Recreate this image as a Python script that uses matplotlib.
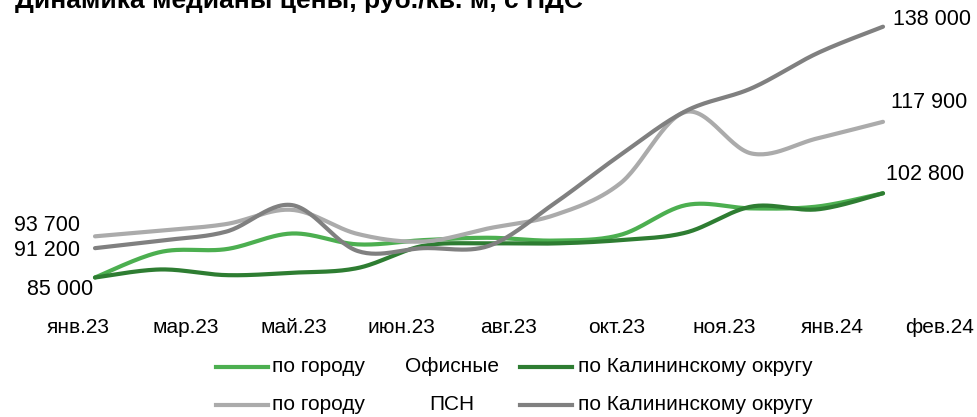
import numpy as np
import matplotlib
matplotlib.use("Agg")
import matplotlib.pyplot as plt
from matplotlib.lines import Line2D

plt.rcParams['font.family'] = ['Liberation Sans', 'DejaVu Sans']

# ---------------- data ----------------
title = "Динамика медианы цены, руб./кв. м, с НДС"
tick_labels = ["янв.23", "мар.23", "май.23", "июн.23", "авг.23",
               "окт.23", "ноя.23", "янв.24", "фев.24"]

office_city = [85000, 90400, 91000, 94300, 92000, 92900, 93400, 92800,
               94000, 100300, 99600, 100000, 102800]
office_kalin = [85000, 86700, 85500, 86000, 87000, 91700, 92200, 92200,
                92900, 94500, 100000, 99400, 102800]
psn_city = [93700, 94900, 96300, 99300, 94200, 92600, 95400, 98200,
            104900, 120000, 111200, 114400, 117900]
psn_kalin = [91200, 92800, 94700, 100300, 90600, 91200, 91700, 100700,
             110900, 120200, 125000, 132400, 138000]

legend_row1 = ["по городу", "Офисные", "по Калининскому округу"]
legend_row2 = ["по городу", "ПСН", "по Калининскому округу"]

c_green = "#4CAF50"
c_dgreen = "#2E7D32"
c_lgrey = "#ABABAB"
c_grey = "#808080"

# ---------------- helpers ----------------
def smooth(y, n=30):
    """Catmull-Rom style Bezier smoothing (like Excel smoothed lines)."""
    y = np.asarray(y, float)
    x = np.arange(len(y), dtype=float)
    P = np.column_stack([x, y])
    Pp = np.vstack([P[0], P, P[-1]])
    out = []
    t = np.linspace(0, 1, n)[:, None]
    for i in range(len(P) - 1):
        p0, p1, p2, p3 = Pp[i], Pp[i + 1], Pp[i + 2], Pp[i + 3]
        c1 = p1 + (p2 - p0) / 6.0
        c2 = p2 - (p3 - p1) / 6.0
        seg = ((1 - t) ** 3) * p1 + 3 * ((1 - t) ** 2) * t * c1 + 3 * (1 - t) * t ** 2 * c2 + t ** 3 * p2
        out.append(seg if i == 0 else seg[1:])
    seg = np.vstack(out)
    return seg[:, 0], seg[:, 1]

W, H = 977, 417
fig = plt.figure(figsize=(W / 100, H / 100), dpi=100)

# axes placement in pixels
ax_l, ax_r, ax_t, ax_b = 40, 965, 8, 300
ax = fig.add_axes([ax_l / W, 1 - ax_b / H, (ax_r - ax_l) / W, (ax_b - ax_t) / H])

# mapping: index 0 -> px 95, index 12 -> px 883
x0px, x1px = 95, 883
unit = (x1px - x0px) / 12
ax.set_xlim(-(x0px - ax_l) / unit, 12 + (ax_r - x1px) / unit)
# value 85000 -> py 277.5, 138000 -> py 26.7
vpp = (138000 - 85000) / (277.5 - 26.7)
ax.set_ylim(85000 - (ax_b - 277.5) * vpp, 85000 + (277.5 - ax_t) * vpp)

lw = 3.0
for data, col in [(office_city, c_green), (office_kalin, c_dgreen),
                  (psn_city, c_lgrey), (psn_kalin, c_grey)]:
    xs, ys = smooth(data)
    ax.plot(xs, ys, color=col, lw=lw, solid_capstyle='round', clip_on=False)

for s in ax.spines.values():
    s.set_visible(False)
ax.set_yticks([])
tick_pos = np.linspace((78 - x0px) / unit, (940 - x0px) / unit, len(tick_labels))
ax.set_xticks(tick_pos)
ax.set_xticklabels(tick_labels, fontsize=15)
ax.tick_params(axis='x', length=0, pad=13)

def fmt(v):
    return f"{v:,}".replace(",", " ")

def lab(v, xi, dx, dy, ha):
    ax.annotate(fmt(v), xy=(xi, v), xytext=(dx * 0.72, dy * 0.72),
                textcoords='offset points', ha=ha, va='center', fontsize=15.5)

lab(psn_city[0], 0, -15, 11, 'right')
lab(psn_kalin[0], 0, -15, -2, 'right')
lab(office_city[0], 0, -2, -12, 'right')
lab(psn_kalin[-1], 12, 10, 7, 'left')
lab(psn_city[-1], 12, 8, 19, 'left')
lab(office_city[-1], 12, 3, 19, 'left')

# title (partly cut at top as in reference)
fig.text(15 / W, 1 - 8 / H, title, fontsize=19, fontweight='bold',
         ha='left', va='baseline')

# manual legend
def fx(px):
    return px / W

def fy(py):
    return 1 - py / H

for row, (labels, c1, c2) in enumerate([(legend_row1, c_green, c_dgreen),
                                        (legend_row2, c_lgrey, c_grey)]):
    py = 367 if row == 0 else 405
    fig.add_artist(Line2D([fx(216), fx(268)], [fy(py), fy(py)], color=c1, lw=lw,
                          transform=fig.transFigure))
    fig.text(fx(272), fy(py), labels[0], fontsize=15, ha='left', va='center')
    fig.text(fx(452), fy(py), labels[1], fontsize=15, ha='center', va='center')
    fig.add_artist(Line2D([fx(520), fx(572)], [fy(py), fy(py)], color=c2, lw=lw,
                          transform=fig.transFigure))
    fig.text(fx(578), fy(py), labels[2], fontsize=15, ha='left', va='center')

fig.savefig("out.png", dpi=100)
